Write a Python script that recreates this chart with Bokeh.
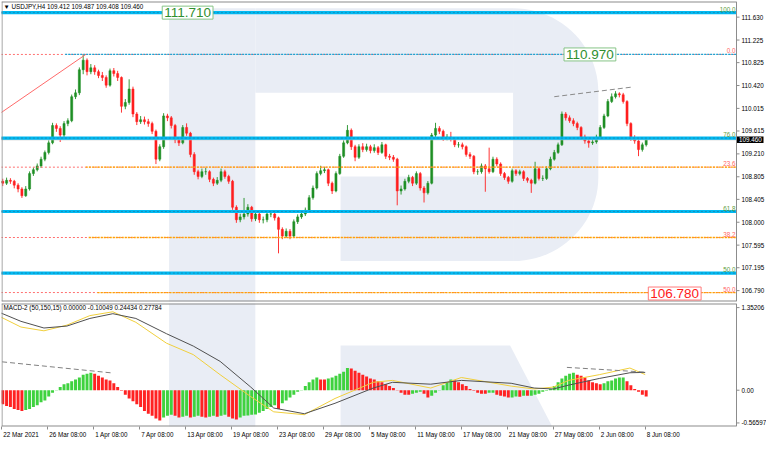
import numpy as np
from bokeh.plotting import figure
from bokeh.models import Range1d, FixedTicker, Label, ColumnDataSource, CustomJSTickFormatter
from bokeh.layouts import column
from bokeh.embed import file_html
from bokeh.resources import INLINE
from bokeh.core.properties import value

# ---------------- data ----------------
first_open = 108.70
closes = [108.725,108.691,108.742,108.725,108.657,108.589,108.469,108.589,108.861,108.929,
          108.997,109.116,109.235,109.405,109.712,109.661,109.542,109.746,109.797,110.222,
          110.290,110.699,110.869,110.665,110.733,110.665,110.597,110.563,110.426,110.682,
          110.631,110.563,110.052,110.120,110.358,109.916,109.780,109.814,109.780,109.746,
          109.610,109.116,109.337,109.882,109.848,109.712,109.456,109.405,109.678,109.576,
          109.201,108.895,108.810,108.895,108.895,108.759,108.691,108.742,108.895,108.810,
          108.725,108.265,108.044,108.095,108.146,108.265,108.061,108.146,108.044,108.044,
          108.146,108.146,108.078,107.874,107.755,107.840,107.755,108.010,108.095,108.146,
          108.214,108.435,108.606,108.861,108.912,108.929,108.691,108.554,108.861,109.167,
          109.405,109.627,109.337,109.150,109.337,109.286,109.337,109.269,109.320,109.235,
          109.371,109.167,109.150,109.116,108.554,108.589,108.725,108.793,108.691,108.861,
          108.606,108.520,108.691,109.542,109.661,109.610,109.490,109.507,109.473,109.371,
          109.371,109.337,109.201,109.167,108.895,108.895,108.997,108.946,108.895,109.116,
          109.031,108.861,108.793,108.725,108.912,108.861,108.895,108.776,108.742,108.691,
          108.946,108.776,108.776,108.946,109.116,109.235,109.371,109.916,109.848,109.797,
          109.746,109.678,109.507,109.439,109.405,109.422,109.507,109.678,109.882,110.137,
          110.222,110.273,110.256,110.137,109.746,109.490,109.439,109.286,109.371,109.460]
highs = [108.78,108.77,108.79,108.78,108.75,108.69,108.62,108.64,108.90,108.97,
         109.04,109.16,109.27,109.45,109.76,109.75,109.70,109.79,109.84,110.26,
         110.35,110.74,110.97,110.90,110.80,110.78,110.70,110.66,110.60,110.72,
         110.73,110.68,110.58,110.18,110.53,110.40,109.95,109.88,109.87,109.83,
         109.78,109.64,109.38,109.93,109.92,109.88,109.74,109.50,109.72,109.75,
         109.60,109.24,108.93,108.95,108.96,108.92,108.79,108.80,108.95,108.93,
         108.84,108.75,108.30,108.15,108.43,108.32,108.29,108.20,108.18,108.10,
         108.20,108.20,108.19,108.10,107.91,107.89,107.88,108.05,108.14,108.19,
         108.26,108.48,108.65,108.90,109.00,108.98,108.95,108.72,108.90,109.21,
         109.45,109.72,109.66,109.37,109.38,109.40,109.39,109.37,109.38,109.35,
         109.42,109.39,109.21,109.19,109.14,108.65,108.77,108.84,108.82,108.90,
         108.89,108.64,108.73,109.58,109.76,109.70,109.64,109.56,109.60,109.50,
         109.42,109.41,109.36,109.24,109.19,108.94,109.04,109.03,109.32,109.16,
         109.15,109.06,108.89,108.82,108.95,108.94,108.93,108.92,108.80,108.77,
         109.07,108.97,108.83,108.99,109.16,109.28,109.41,109.96,109.95,109.89,
         109.84,109.78,109.70,109.55,109.48,109.48,109.55,109.72,109.92,110.18,
         110.28,110.32,110.30,110.29,110.16,109.77,109.54,109.47,109.41,109.49]
lows = [108.65,108.64,108.66,108.68,108.60,108.53,108.43,108.45,108.56,108.82,
        108.90,108.96,109.08,109.20,109.38,109.60,109.42,109.50,109.70,109.77,
        110.18,110.25,110.62,110.60,110.62,110.61,110.55,110.50,110.38,110.40,
        110.58,110.50,109.94,110.00,110.08,109.86,109.72,109.74,109.73,109.69,
        109.56,109.03,109.08,109.30,109.79,109.66,109.40,109.35,109.38,109.53,
        109.15,108.84,108.76,108.78,108.84,108.71,108.64,108.66,108.71,108.77,
        108.68,108.22,107.99,108.00,108.05,108.10,108.01,108.02,107.99,107.98,
        108.00,108.09,108.03,107.45,107.70,107.72,107.70,107.73,107.97,108.06,
        108.11,108.19,108.40,108.58,108.83,108.87,108.64,108.50,108.53,108.84,
        109.14,109.38,109.28,109.08,109.12,109.24,109.25,109.22,109.23,109.19,
        109.21,109.12,109.10,109.07,108.30,108.49,108.56,108.69,108.64,108.66,
        108.56,108.35,108.49,108.67,109.51,109.56,109.44,109.45,109.43,109.33,
        109.32,109.29,109.16,109.12,108.85,108.84,108.86,108.54,108.86,108.87,
        108.99,108.82,108.75,108.68,108.70,108.82,108.83,108.73,108.70,108.52,
        108.67,108.74,108.73,108.75,108.92,109.09,109.21,109.35,109.80,109.76,
        109.70,109.63,109.46,109.39,109.32,109.37,109.39,109.48,109.65,109.86,
        110.11,110.19,110.21,110.10,109.70,109.44,109.39,109.17,109.25,109.34]
hist = [-0.204,-0.218,-0.248,-0.263,-0.293,-0.308,-0.323,-0.308,-0.293,-0.263,
        -0.233,-0.189,-0.159,-0.100,-0.040,0.004,0.049,0.094,0.108,0.138,
        0.168,0.198,0.242,0.257,0.272,0.257,0.227,0.198,0.168,0.153,
        0.108,0.049,-0.010,-0.070,-0.129,-0.174,-0.218,-0.263,-0.323,-0.367,
        -0.397,-0.441,-0.471,-0.426,-0.397,-0.382,-0.397,-0.426,-0.412,-0.397,
        -0.426,-0.412,-0.397,-0.412,-0.426,-0.412,-0.397,-0.412,-0.397,-0.382,
        -0.412,-0.441,-0.456,-0.426,-0.397,-0.395,-0.382,-0.380,-0.352,-0.323,
        -0.293,-0.263,-0.233,-0.293,-0.204,-0.159,-0.114,-0.070,-0.025,0.004,
        0.064,0.123,0.168,0.198,0.168,0.165,0.183,0.198,0.227,0.257,
        0.287,0.346,0.340,0.302,0.272,0.242,0.212,0.183,0.168,0.138,
        0.123,0.094,0.064,0.034,0.004,-0.040,-0.070,-0.072,-0.055,-0.040,
        -0.025,-0.055,-0.114,-0.085,-0.040,0.004,0.079,0.123,0.168,0.153,
        0.123,0.094,0.064,0.019,-0.010,-0.040,-0.055,-0.057,-0.040,-0.038,
        -0.070,-0.085,-0.100,-0.114,-0.112,-0.100,-0.103,-0.085,-0.088,-0.085,
        -0.070,-0.055,-0.025,-0.010,0.019,0.064,0.123,0.183,0.227,0.257,
        0.272,0.242,0.227,0.198,0.153,0.123,0.108,0.094,0.108,0.138,
        0.153,0.183,0.198,0.200,0.138,0.079,0.019,-0.025,-0.070,-0.100]
line_idx = [0,12,24,36,48,60,72,88,102,116,132,144,160,176,196,206,226,242,268,280,290,298,314,330,338]
macd_grey = [1.223,1.074,0.970,1.000,1.119,1.193,1.119,0.881,0.688,0.450,0.049,-0.278,-0.367,
             -0.204,0.034,0.123,0.094,0.153,0.108,0.034,0.019,0.079,0.183,0.272,0.278]
macd_yellow = [1.163,0.985,0.926,1.015,1.163,1.223,1.059,0.733,0.555,0.242,-0.100,-0.337,-0.382,
               -0.129,0.123,0.153,0.034,0.198,0.064,0.019,0.049,0.153,0.242,0.346,0.244]
tick_idx = [2,26,50,74,98,122,146,170,194,218,242,266,290,314,338]
tick_labels = ["22 Mar 2021","26 Mar 08:00","1 Apr 08:00","7 Apr 08:00","13 Apr 08:00",
               "19 Apr 08:00","23 Apr 08:00","29 Apr 08:00","5 May 08:00","11 May 08:00",
               "17 May 08:00","21 May 08:00","27 May 08:00","2 Jun 08:00","8 Jun 08:00"]
price_ticks = [106.790,107.195,107.595,108.000,108.405,108.805,109.210,109.615,110.015,110.420,110.825,111.225,111.630]
macd_tick_labels = ["-0.56597", "0.00", "1.35206"]
blue_levels = [111.71, 109.49, 108.19, 107.10]
blue_names = ["100.0", "76.0", "61.8", "50.0"]
red_levels = [110.97, 108.975, 107.73, 106.756]
red_names = ["0.0", "23.6", "38.2", "50.0"]
orange_start = [None, 45.9, 47.4, 52.0]
line_110970_start = 35.1
fib_x = [-2.0, 45.85]
fib_y = [109.855, 110.97]
tl_x = [290.5, 331.0]
tl_y = [110.222, 110.392]
mtl1_x = [-2.0, 60.3]
mtl1_y = [0.455, 0.267]
mtl2_x = [297.1, 338.1]
mtl2_y = [0.356, 0.282]
current_price = 109.460
macd_range = (-0.56597, 1.35206)

# ---------------- helpers (reference pixel geometry for decorations) ----------------
def px_x(px):
    return (px + 2.6) / 1.954

def py_main(py):
    return 111.924 - 0.017018 * py

def py_macd(py):
    return 1.35206 - (py - 315.0) / 67.27

FONT = "Liberation Sans"
SMALL = "6.3px"
LOGO = "#E9EDF5"
GREEN = "#1f8f25"
RED = "#ff1e1e"
HG = "#3fd23f"
HR = "#ff2222"
AXC = "#8c8c8c"
W = 766
FRAME = 765                        # frame width of both panels (screen px)
AXIS_AT = 735                      # screen px of the price-scale line from frame left
X0, X1 = px_x(1), px_x(751)
S = AXIS_AT / (X1 - X0)            # screen px per data unit
def sx(px):
    return px / S
XEND = X0 + FRAME / S

n = len(closes)
xs = [2 * j + 0.5 for j in range(n)]
opens = [first_open] + closes[:-1]
ccol = [GREEN if c >= o else RED for o, c in zip(opens, closes)]
src = ColumnDataSource(dict(x=xs, h=highs, l=lows,
                            top=[max(o, c) for o, c in zip(opens, closes)],
                            bot=[min(o, c) for o, c in zip(opens, closes)], color=ccol))

def price_scale(fig, yb, yt, ticks, labels, dy_px):
    """Right-hand scale drawn inside the frame: white strip, line, tick marks, labels."""
    fig.quad(left=[X1], right=[XEND + 5], top=[yt + dy_px * 20], bottom=[yb - dy_px * 20],
             color="white", line_color=None)
    fig.segment(x0=[X1], x1=[X1], y0=[yb], y1=[yt], color=AXC, line_width=1)
    fig.segment(x0=[X1] * len(ticks), x1=[X1 + sx(3)] * len(ticks), y0=ticks, y1=ticks,
                color=AXC, line_width=1)
    fig.text(x=[X1 + sx(5)] * len(ticks), y=ticks, text=labels, text_align="left",
             text_baseline="middle", text_font=value(FONT), text_font_size=SMALL, text_color="black")

# ---------------- main price panel ----------------
YT, YB = py_main(1), py_main(313)
p = figure(width=W, height=302, x_range=Range1d(X0, XEND), y_range=Range1d(YB, YT),
           toolbar_location=None, output_backend="svg", x_axis_location=None,
           y_axis_location=None, min_border_left=1, min_border_right=0,
           min_border_top=1, min_border_bottom=1)
p.grid.visible = False
p.outline_line_color = None
p.background_fill_color = "white"
p.border_fill_color = "white"

# logo
p.quad(left=[px_x(172), px_x(260), px_x(347)], right=[px_x(260), px_x(523), px_x(523)],
       top=[py_main(8), py_main(8), py_main(183)], bottom=[py_main(330), py_main(96), py_main(271)],
       color=LOGO, line_color=None)
t1 = np.linspace(np.pi / 2, 0, 24)
t2 = np.linspace(0, -np.pi / 2, 24)
bx = np.concatenate([523 + 87 * np.cos(t1), 523 + 87 * np.cos(t2)])
by = np.concatenate([95 - 87 * np.sin(t1), 184 - 87 * np.sin(t2)])
p.patch([px_x(v) for v in bx], [py_main(v) for v in by], color=LOGO, line_color=None)

# candles
p.segment(x0="x", x1="x", y0="l", y1="h", color="color", line_width=0.9, source=src)
p.vbar(x="x", width=1.1, top="top", bottom="bot", fill_color="color", line_color="color", line_width=0.5, source=src)

# level lines
XL = px_x(-20)
p.segment(x0=[XL] * 4, x1=[X1] * 4, y0=red_levels, y1=red_levels, color="#ff7070", line_width=1, line_dash="2 2")
ox = [s for s in orange_start if s is not None]
oy = [lv for s, lv in zip(orange_start, red_levels) if s is not None]
p.segment(x0=ox, x1=[X1] * len(ox), y0=oy, y1=oy, color="#ffa500", line_width=1.3, line_dash="2 1")
p.segment(x0=[line_110970_start], x1=[X1], y0=[red_levels[0]], y1=[red_levels[0]], color="#1aa6d6", line_width=1.2, line_dash="2 1")
p.segment(x0=[XL], x1=[X1], y0=[current_price], y1=[current_price], color="#c4c4c4", line_width=1)
p.segment(x0=[XL] * 4, x1=[X1] * 4, y0=blue_levels, y1=blue_levels, color="#00b9f2", line_width=3.2)
p.segment(x0=[XL] * 4, x1=[X1] * 4, y0=blue_levels, y1=blue_levels, color="#1585ad", line_width=0.8, line_dash="2 2")
p.line(fib_x, fib_y, color="#ff6a6a", line_width=1)
p.line(tl_x, tl_y, color="#8a8a8a", line_width=1, line_dash="5 3")

p.text(x=[px_x(750)] * 4, y=blue_levels, text=blue_names, text_align="right", text_baseline="bottom",
       text_font=value(FONT), text_font_size=SMALL, text_color="#5e9c3a", y_offset=-1)
p.text(x=[px_x(750)] * 4, y=red_levels, text=red_names, text_align="right", text_baseline="bottom",
       text_font=value(FONT), text_font_size=SMALL, text_color="#ff6464", y_offset=-1)

# frame edges and price scale
p.segment(x0=[X0 + sx(0.5), X0, X0], x1=[X0 + sx(0.5), X1, X1],
          y0=[YB, YT, YB], y1=[YT, YT, YB], color=AXC, line_width=[1, 2, 2])
price_scale(p, YB, YT, price_ticks, ["%.3f" % t for t in price_ticks], 0.017)
p.quad(left=[X1 + sx(0.5)], right=[X1 + sx(27)], top=[current_price + 0.058], bottom=[current_price - 0.058],
       color="black", line_color=None)
p.text(x=[X1 + sx(2.5)], y=[current_price], text=["%.3f" % current_price], text_align="left",
       text_baseline="middle", text_font=value(FONT), text_font_size=SMALL, text_color="white")

p.add_layout(Label(x=px_x(3), y=py_main(6.5), text="\u25bc USDJPY,H4  109.412 109.487 109.408 109.460",
                   text_font=FONT, text_font_size=SMALL, text_color="black", text_baseline="middle"))
p.add_layout(Label(x=px_x(165), y=111.71, text="111.710", text_font=FONT, text_font_size="13.5px",
                   text_color="#2f8f2f", text_baseline="middle", background_fill_color="white",
                   border_line_color="#86c486", padding=2))
p.add_layout(Label(x=px_x(575), y=110.97, text="110.970", text_font=FONT, text_font_size="13.5px",
                   text_color="#2f8f2f", text_baseline="middle", background_fill_color="white",
                   border_line_color="#86c486", padding=2))
p.add_layout(Label(x=px_x(661), y=py_main(304.7), text="106.780", text_font=FONT, text_font_size="13.5px",
                   text_color="#ff1a1a", text_baseline="middle", background_fill_color="white",
                   border_line_color="#ff7a7a", padding=2))

# ---------------- MACD panel ----------------
MB, MT = macd_range
m = figure(width=W, height=138, x_range=Range1d(X0, XEND), y_range=Range1d(MB, MT),
           toolbar_location=None, output_backend="svg", y_axis_location=None,
           min_border_left=1, min_border_right=0, min_border_top=1, min_border_bottom=0)
m.grid.visible = False
m.outline_line_color = None
m.background_fill_color = "white"
m.border_fill_color = "white"

# logo pieces
m.quad(left=[px_x(172)], right=[px_x(260)], top=[py_macd(300)], bottom=[py_macd(460)], color=LOGO, line_color=None)
m.patch([px_x(347), px_x(520), px_x(571), px_x(347)], [py_macd(359), py_macd(359), py_macd(460), py_macd(460)],
        color=LOGO, line_color=None)

hcol = [HR] + [HG if hist[k] >= hist[k - 1] else HR for k in range(1, n)]
m.vbar(x=xs, width=1.55, top=hist, bottom=0, color=hcol, line_color=None)
m.line(line_idx, macd_yellow, color="#f0cf3c", line_width=1)
m.line(line_idx, macd_grey, color="#505050", line_width=1)
m.line(mtl1_x, mtl1_y, color="#808080", line_width=1, line_dash="5 3")
m.line(mtl2_x, mtl2_y, color="#808080", line_width=1, line_dash="5 3")

m.segment(x0=[X0 + sx(0.5), X0, X0], x1=[X0 + sx(0.5), X1, X1],
          y0=[MB, MT, MB], y1=[MT, MT, MB], color=AXC, line_width=[1, 2, 2])
mticks = [py_macd(440.3), 0.0, py_macd(319.3)]
price_scale(m, MB, MT, mticks, macd_tick_labels, 0.015)
m.add_layout(Label(x=px_x(3), y=py_macd(319.5), text="MACD-2 (50,150,15) 0.00000 -0.10049 0.24434 0.27784",
                   text_font=FONT, text_font_size=SMALL, text_color="black", text_baseline="middle"))

# x axis: labels placed to the right of the bar-position tick marks (drawn as minor ticks)
CW = {'M': 0.833, 'a': 0.556, 'r': 0.333, 'A': 0.667, 'p': 0.556, 'y': 0.5, 'J': 0.5,
      'u': 0.556, 'n': 0.556, ' ': 0.278, ':': 0.278}
def text_w(s):
    return sum(CW.get(ch, 0.556) for ch in s) * 6.3

lab_pos = [t + (text_w(s) / 2 + 1.5) / S for t, s in zip(tick_idx, tick_labels)]
xa = m.xaxis[0]
xa.axis_line_color = None
xa.major_tick_line_color = None
xa.major_tick_out = 0
xa.major_tick_in = 0
xa.ticker = FixedTicker(ticks=lab_pos, minor_ticks=tick_idx)
xa.formatter = CustomJSTickFormatter(args=dict(labs=tick_labels), code="return labs[index];")
xa.minor_tick_line_color = AXC
xa.minor_tick_out = 3
xa.minor_tick_in = 0
xa.major_label_standoff = 1
xa.major_label_text_font = FONT
xa.major_label_text_font_size = SMALL
xa.major_label_text_color = "black"

layout = column(p, m, spacing=0)
open("out.html", "w").write(file_html(layout, INLINE))
